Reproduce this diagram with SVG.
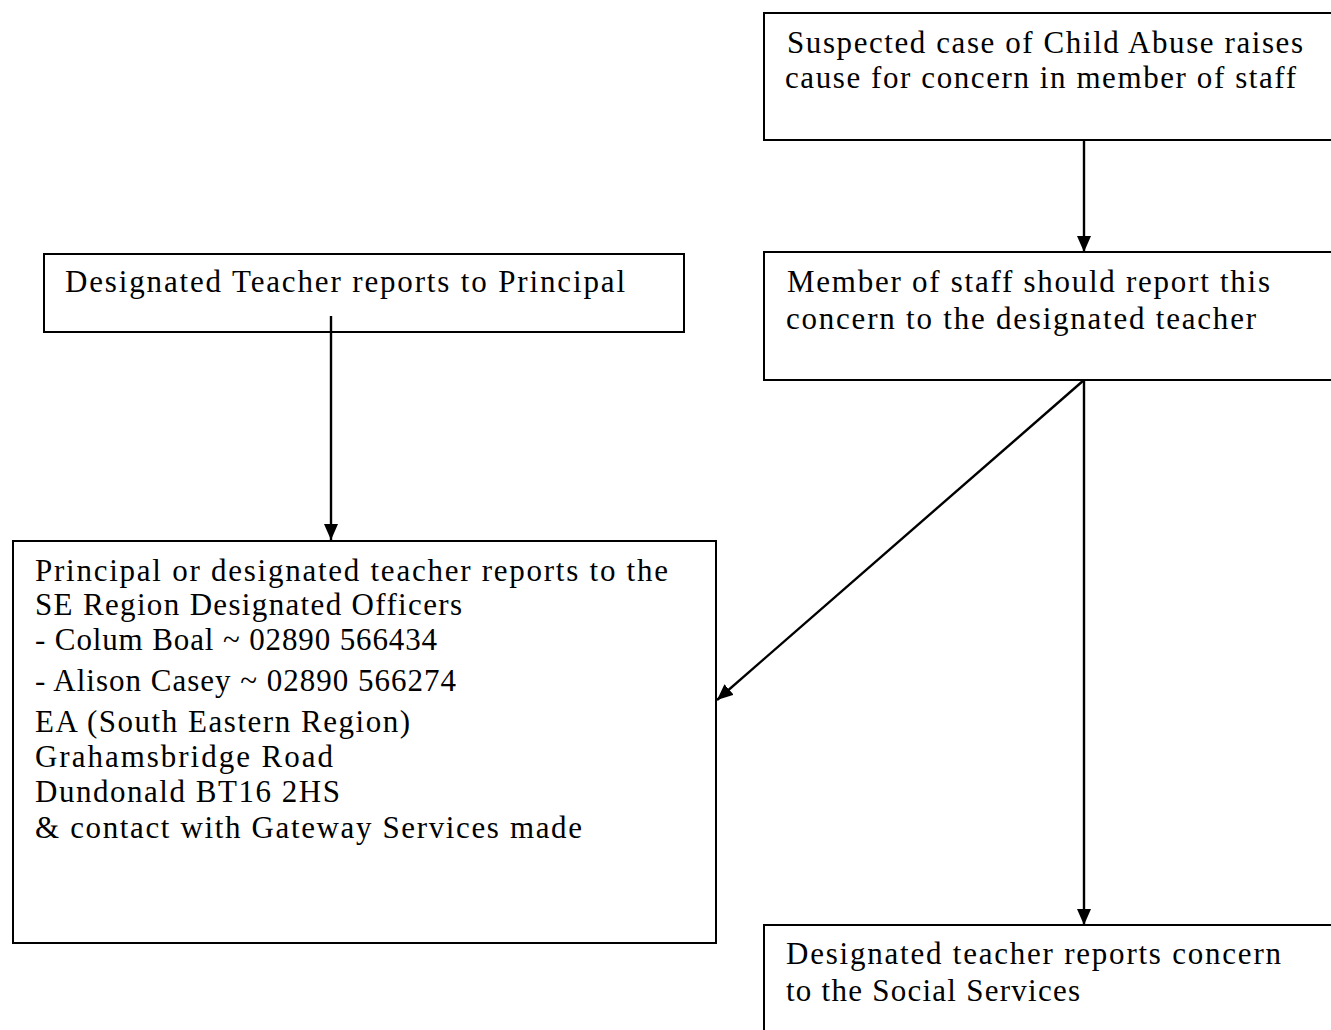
<svg xmlns="http://www.w3.org/2000/svg" width="1331" height="1030" viewBox="0 0 1331 1030">
  <style>
    .box { fill: #ffffff; stroke: #000000; stroke-width: 2; }
    .lbl { font-family: "Liberation Serif", "Times New Roman", serif; font-size: 31px; fill: #000000; }
    .conn { stroke: #000000; stroke-width: 2.4; fill: none; }
  </style>
  <defs>
    <marker id="arrow" markerWidth="16" markerHeight="14" refX="16" refY="7" orient="auto" markerUnits="userSpaceOnUse">
      <path d="M0,0 L16,7 L0,14 Z" fill="#000000"/>
    </marker>
  </defs>
  <rect width="1331" height="1030" fill="#ffffff"/>

  <g id="node-suspected">
    <rect class="box" x="764" y="13" width="600" height="127"/>
    <text class="lbl" x="787" y="53" textLength="516" lengthAdjust="spacing">Suspected case of Child Abuse raises</text>
    <text class="lbl" x="785" y="88" textLength="511" lengthAdjust="spacing">cause for concern in member of staff</text>
  </g>

  <g id="node-report-designated">
    <rect class="box" x="764" y="252" width="600" height="128"/>
    <text class="lbl" x="787" y="292" textLength="483" lengthAdjust="spacing">Member of staff should report this</text>
    <text class="lbl" x="786" y="329" textLength="470" lengthAdjust="spacing">concern to the designated teacher</text>
  </g>

  <g id="node-principal">
    <rect class="box" x="44" y="254" width="640" height="78"/>
    <text class="lbl" x="65" y="292" textLength="560" lengthAdjust="spacing">Designated Teacher reports to Principal</text>
  </g>

  <g id="node-officers">
    <rect class="box" x="13" y="541" width="703" height="402"/>
    <text class="lbl" x="35" y="581" textLength="633" lengthAdjust="spacing">Principal or designated teacher reports to the</text>
    <text class="lbl" x="35" y="615" textLength="427" lengthAdjust="spacing">SE Region Designated Officers</text>
    <text class="lbl" x="35" y="650" textLength="402" lengthAdjust="spacing">- Colum Boal ~ 02890 566434</text>
    <text class="lbl" x="35" y="691" textLength="421" lengthAdjust="spacing">- Alison Casey ~ 02890 566274</text>
    <text class="lbl" x="35" y="732" textLength="375" lengthAdjust="spacing">EA (South Eastern Region)</text>
    <text class="lbl" x="35" y="767" textLength="298" lengthAdjust="spacing">Grahamsbridge Road</text>
    <text class="lbl" x="35" y="802" textLength="305" lengthAdjust="spacing">Dundonald BT16 2HS</text>
    <text class="lbl" x="35" y="838" textLength="547" lengthAdjust="spacing">&amp; contact with Gateway Services made</text>
  </g>

  <g id="node-social-services">
    <rect class="box" x="764" y="925" width="600" height="120"/>
    <text class="lbl" x="786" y="964" textLength="495" lengthAdjust="spacing">Designated teacher reports concern</text>
    <text class="lbl" x="786" y="1001" textLength="294" lengthAdjust="spacing">to the Social Services</text>
  </g>

  <g id="connectors">
    <line class="conn" x1="1084" y1="140" x2="1084" y2="252" marker-end="url(#arrow)"/>
    <line class="conn" x1="331" y1="316" x2="331" y2="540" marker-end="url(#arrow)"/>
    <line class="conn" x1="1084" y1="380" x2="717" y2="700" marker-end="url(#arrow)"/>
    <line class="conn" x1="1084" y1="380" x2="1084" y2="925" marker-end="url(#arrow)"/>
  </g>
</svg>
